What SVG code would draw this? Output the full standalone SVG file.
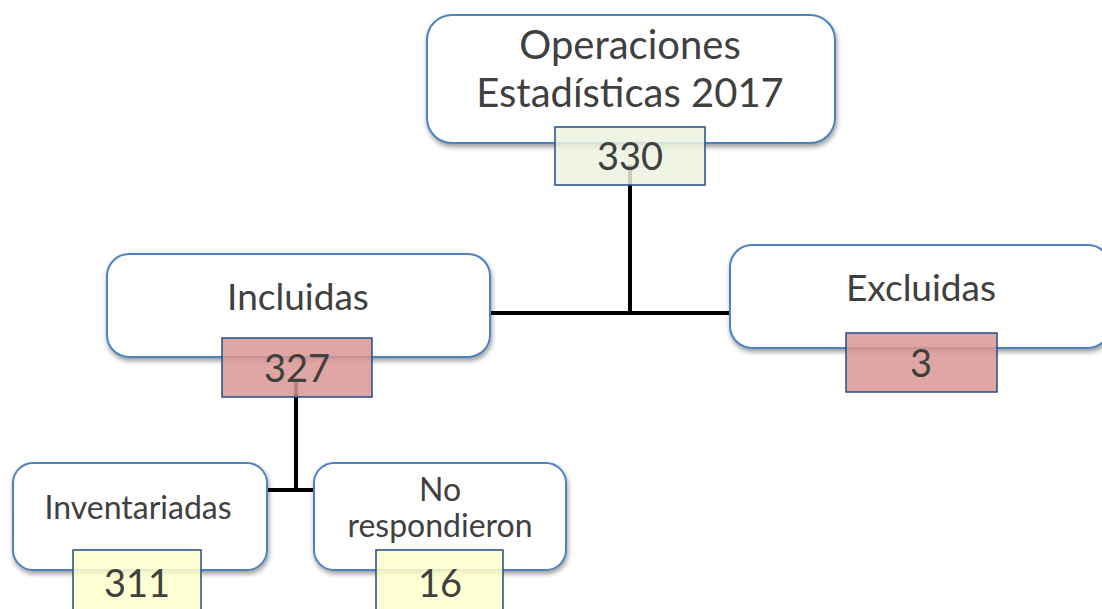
<svg xmlns="http://www.w3.org/2000/svg" width="1102" height="609" viewBox="0 0 1102 609">
<defs>
<filter id="sh" x="-10%" y="-10%" width="120%" height="130%">
<feGaussianBlur in="SourceAlpha" stdDeviation="2.5"/>
<feOffset dx="1" dy="3" result="b"/>
<feComponentTransfer><feFuncA type="linear" slope="0.4"/></feComponentTransfer>
<feMerge><feMergeNode/><feMergeNode in="SourceGraphic"/></feMerge>
</filter>
</defs>
<style>
.node{fill:#fff;stroke:#4f81bd;stroke-width:2;filter:url(#sh)}
.num{stroke:#1f4e8c;stroke-width:1.5;fill-opacity:0.85}
.g{fill:#ebf1de}
.r{fill:#d99694}
.y{fill:#ffffcc}
text{font-family:Lato,"Open Sans","Liberation Sans",sans-serif;fill:#404040;text-anchor:middle}
.conn{stroke:#000;stroke-width:4;fill:none}
</style>
<rect width="1102" height="609" fill="#fff"/>
<g id="connectors">
<path class="conn" d="M630 165 V313 M490 313 H731"/>
<path class="conn" d="M296 380 V490 M268 490 H315"/>
</g>
<g id="n-operaciones">
<rect class="node" x="427" y="15" width="408" height="128" rx="25"/>
<text x="630" y="59" font-size="40">Operaciones</text>
<text x="630" y="107" font-size="40">Estadísticas 2017</text>
<rect class="num g" x="555" y="127" width="150" height="58"/>
<text x="630" y="170" font-size="38">330</text>
</g>
<g id="n-incluidas">
<rect class="node" x="107" y="254" width="383" height="103" rx="22"/>
<text x="298" y="310" font-size="37">Incluidas</text>
<rect class="num r" x="222" y="338" width="150" height="59"/>
<text x="297" y="382" font-size="38">327</text>
</g>
<g id="n-excluidas">
<rect class="node" x="730" y="245" width="380" height="103" rx="22"/>
<text x="921" y="301" font-size="37">Excluidas</text>
<rect class="num r" x="846" y="333" width="151" height="59"/>
<text x="921" y="377" font-size="38">3</text>
</g>
<g id="n-inventariadas">
<rect class="node" x="13" y="463" width="254" height="107" rx="20"/>
<text x="138" y="519" font-size="32">Inventariadas</text>
<rect class="num y" x="73" y="550" width="128" height="62"/>
<text x="137" y="597" font-size="38">311</text>
</g>
<g id="n-norespondieron">
<rect class="node" x="314" y="463" width="252" height="107" rx="20"/>
<text x="440" y="501" font-size="32">No</text>
<text x="440" y="537" font-size="32">respondieron</text>
<rect class="num y" x="376" y="550" width="127" height="62"/>
<text x="440" y="597" font-size="38">16</text>
</g>
</svg>
